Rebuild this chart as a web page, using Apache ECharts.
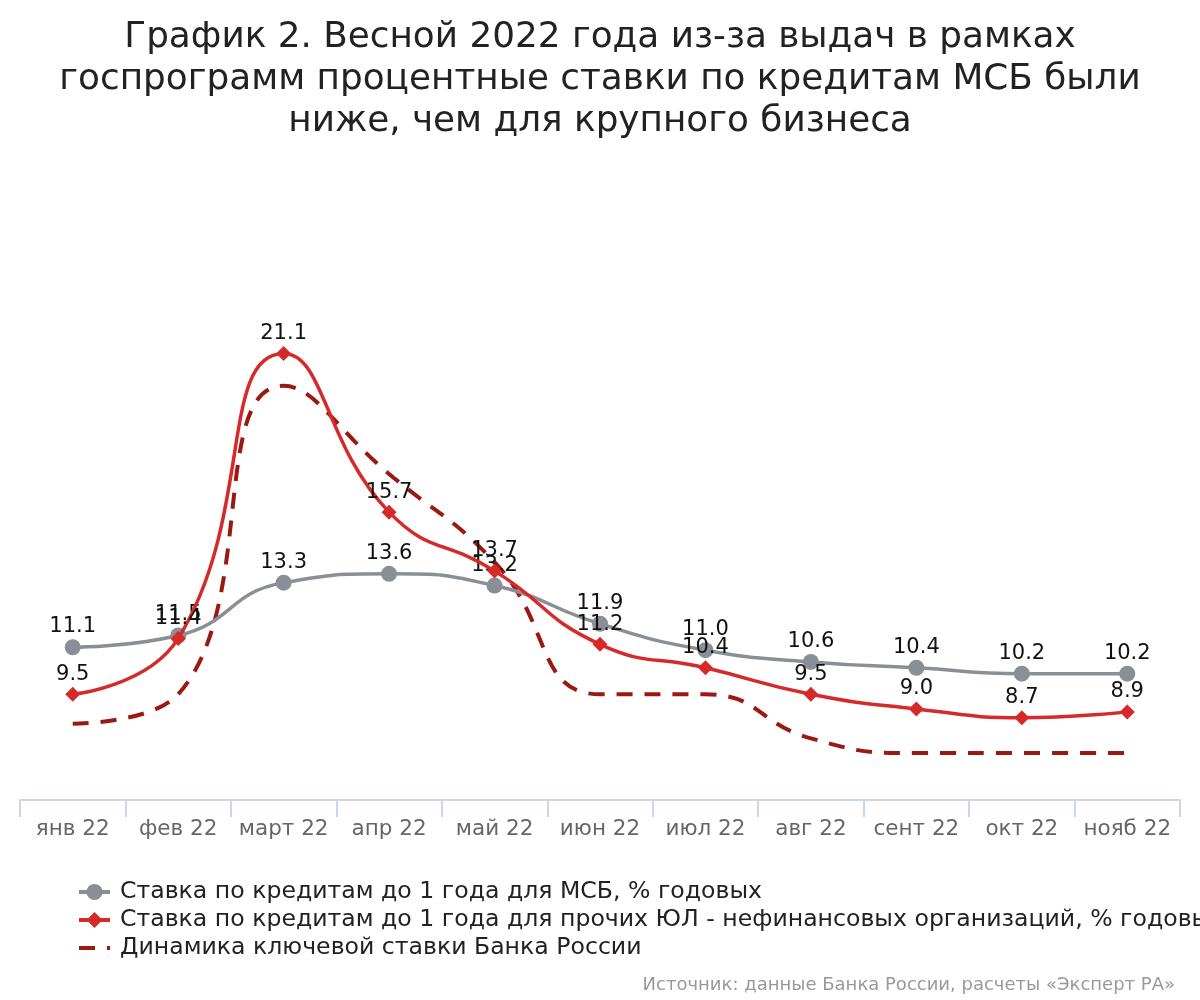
<!DOCTYPE html>
<html><head><meta charset="utf-8">
<script src="https://cdn.jsdelivr.net/npm/echarts@6/dist/echarts.min.js"></script>
<style>html,body{margin:0;padding:0;background:#fff}#c{width:1200px;height:1000px}</style>
</head><body><div id="c"></div>
<script>
const categories = ['янв 22','фев 22','март 22','апр 22','май 22','июн 22','июл 22','авг 22','сент 22','окт 22','нояб 22'];
const msbRate = [11.1, 11.5, 13.3, 13.6, 13.2, 11.9, 11.0, 10.6, 10.4, 10.2, 10.2];
const otherRate = [9.5, 11.4, 21.1, 15.7, 13.7, 11.2, 10.4, 9.5, 9.0, 8.7, 8.9];
const keyRate = [8.5, 9.5, 20, 17, 14, 9.5, 9.5, 8, 7.5, 7.5, 7.5];
const seriesNames = ['Ставка по кредитам до 1 года для МСБ, % годовых','Ставка по кредитам до 1 года для прочих ЮЛ - нефинансовых организаций, % годовых','Динамика ключевой ставки Банка России'];

const chart = echarts.init(document.getElementById('c'));
const F = '"DejaVu Sans"';
const lbl = {show:true,position:'top',distance:2,fontFamily:F,fontSize:21,color:'#111',formatter:p=>p.value.toFixed(1)};
chart.setOption({
  animation:false,
  textStyle:{fontFamily:F},
  title:[{
    text:'График 2. Весной 2022 года из-за выдач в рамках\nгоспрограмм процентные ставки по кредитам МСБ были\nниже, чем для крупного бизнеса',
    left:'center', top:12,
    textStyle:{fontFamily:F,fontSize:35.8,fontWeight:'normal',color:'#222',lineHeight:42}
  },{
    text:'Источник: данные Банка России, расчеты «Эксперт РА»',
    right:20, top:971,
    textStyle:{fontFamily:F,fontSize:18,fontWeight:'normal',color:'#999'}
  }],
  legend:{
    orient:'vertical', left:72, top:875, itemGap:4, itemWidth:31, itemHeight:20,
    textStyle:{fontFamily:F,fontSize:23.6,color:'#222',padding:[0,0,0,5]},
    data:[
      {name:seriesNames[0],lineStyle:{width:4}},
      {name:seriesNames[1],lineStyle:{width:4}},
      {name:seriesNames[2],itemStyle:{opacity:0},lineStyle:{width:4}}
    ]
  },
  grid:{left:20,right:20,top:330,bottom:200},
  xAxis:{
    type:'category', data:categories, boundaryGap:true,
    axisLine:{lineStyle:{color:'#ccd6eb',width:2}},
    axisTick:{show:true,length:17,lineStyle:{color:'#ccd6eb',width:2}},
    axisLabel:{fontFamily:F,fontSize:21.5,color:'#666',margin:18,interval:0}
  },
  yAxis:{type:'value',min:5.9,max:21.9,show:false,splitLine:{show:false}},
  series:[
    {name:seriesNames[0],type:'line',smooth:true,data:msbRate,symbol:'circle',symbolSize:16,
     itemStyle:{color:'#8a8f96'},lineStyle:{color:'#8a8f96',width:3.5},label:lbl,z:2},
    {name:seriesNames[1],type:'line',smooth:true,data:otherRate,symbol:'diamond',symbolSize:15,
     itemStyle:{color:'#d62a2a'},lineStyle:{color:'#d62a2a',width:3.5},label:lbl,z:3},
    {name:seriesNames[2],type:'line',smooth:true,data:keyRate,symbol:'none',showSymbol:false,
     itemStyle:{color:'#9a1a12'},lineStyle:{color:'#9a1a12',width:4,type:[16,12]},z:1}
  ]
});
</script></body></html>
